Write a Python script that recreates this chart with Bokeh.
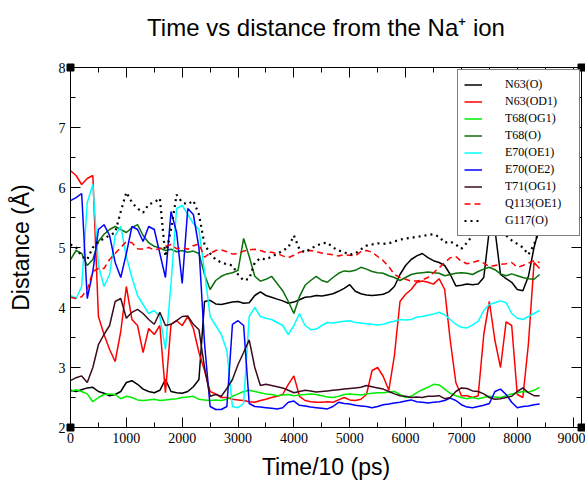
from bokeh.plotting import figure
from bokeh.models import (Legend, LegendItem, LinearAxis, SingleIntervalTicker,
                          Range1d)
from bokeh.embed import file_html
from bokeh.resources import INLINE

# time axis (Time/10, ps), sampled every 100 units
time_ps10 = list(range(0, 8401, 100))

n63_o = [2.62, 2.60, 2.63, 2.66, 2.67, 2.60, 2.57, 2.53, 2.55, 2.60,
         2.75, 2.78, 2.72, 2.64, 2.60, 2.58, 2.62, 2.80, 2.60, 2.58,
         2.57, 2.60, 2.68, 2.80, 4.10, 4.12, 4.06, 4.05, 4.07, 4.09,
         4.10, 4.07, 4.08, 4.20, 4.26, 4.20, 4.17, 4.14, 4.11, 4.07,
         4.09, 4.13, 4.17, 4.18, 4.20, 4.19, 4.21, 4.23, 4.27, 4.32,
         4.38, 4.27, 4.23, 4.21, 4.20, 4.21, 4.22, 4.26, 4.35, 4.55,
         4.70, 4.80, 4.86, 4.90, 4.83, 4.78, 4.75, 4.70, 4.55, 4.36,
         4.37, 4.39, 4.38, 4.39, 4.50, 5.30, 5.30, 4.55, 4.48, 4.42,
         4.30, 4.28, 4.52, 5.00, 5.35]

n63_od1 = [6.28, 6.20, 6.05, 6.15, 6.20, 3.85, 3.55, 3.30, 3.10, 3.60,
           4.35, 3.80, 3.70, 3.25, 3.65, 3.55, 3.70, 2.58, 3.72, 3.78,
           3.70, 3.85, 3.65, 3.25, 2.95, 2.60, 2.56, 2.50, 2.50, 2.47,
           2.46, 2.45, 2.43, 2.42, 2.45, 2.47, 2.50, 2.52, 2.55, 2.72,
           2.86, 2.52, 2.45, 2.43, 2.42, 2.42, 2.43, 2.42, 2.46, 2.50,
           2.46, 2.45, 2.47, 2.55, 2.95, 3.00, 2.85, 2.62, 3.20, 4.10,
           4.22, 4.30, 4.42, 4.44, 4.42, 4.39, 4.48, 4.30, 3.45, 2.75,
           2.53, 2.53, 2.50, 2.53, 3.55, 4.10, 3.45, 3.00, 3.76, 3.70,
           2.55, 2.50, 3.40, 4.75, 4.65]

t68_og1 = [2.60, 2.63, 2.60, 2.56, 2.43, 2.50, 2.55, 2.56, 2.55, 2.48,
           2.52, 2.50, 2.46, 2.45, 2.46, 2.47, 2.45, 2.46, 2.47, 2.48,
           2.50, 2.51, 2.52, 2.47, 2.46, 2.45, 2.46, 2.45, 2.47, 2.52,
           2.56, 2.60, 2.62, 2.60, 2.58, 2.56, 2.55, 2.53, 2.54, 2.55,
           2.53, 2.54, 2.55, 2.56, 2.55, 2.53, 2.51, 2.50, 2.52, 2.55,
           2.56, 2.55, 2.54, 2.56, 2.57, 2.58, 2.58, 2.59, 2.60, 2.55,
           2.50, 2.52, 2.58, 2.63, 2.67, 2.72, 2.71, 2.64, 2.57, 2.53,
           2.50, 2.48, 2.50, 2.48, 2.50, 2.52, 2.51, 2.50, 2.53, 2.56,
           2.58, 2.60, 2.59, 2.62, 2.67]

t68_o = [4.80, 4.95, 4.90, 4.70, 4.80, 5.10, 5.22, 5.30, 5.35, 5.30,
         5.25, 5.33, 5.38, 5.20, 5.08, 5.02, 4.99, 4.95, 4.97, 4.93,
         4.95, 4.92, 4.94, 4.90, 4.55, 4.30, 4.45, 4.52, 4.56, 4.58,
         4.62, 5.15, 4.85, 4.52, 4.44, 4.47, 4.52, 4.40, 4.28, 4.10,
         3.90, 4.18, 4.37, 4.45, 4.52, 4.45, 4.42, 4.50, 4.57, 4.61,
         4.60, 4.62, 4.67, 4.64, 4.60, 4.58, 4.57, 4.53, 4.50, 4.45,
         4.50, 4.55, 4.57, 4.58, 4.59, 4.58, 4.57, 4.53, 4.55, 4.57,
         4.58, 4.57, 4.55, 4.60, 4.64, 4.67, 4.63, 4.56, 4.53, 4.56,
         4.53, 4.50, 4.48, 4.47, 4.55]

e70_oe1 = [4.20, 4.15, 4.35, 5.75, 6.05, 4.70, 4.35, 4.55, 5.20, 5.35,
           4.85, 4.50, 4.20, 4.05, 3.90, 3.95, 3.85, 3.30, 4.40, 5.65,
           5.70, 5.55, 5.40, 5.30, 4.60, 3.85, 3.70, 3.55, 3.28, 2.35,
           2.33, 2.40, 3.85, 4.00, 3.85, 3.82, 3.80, 3.75, 3.70, 3.55,
           3.70, 3.90, 3.70, 3.63, 3.64, 3.70, 3.75, 3.74, 3.76, 3.77,
           3.78, 3.75, 3.74, 3.73, 3.72, 3.71, 3.72, 3.75, 3.77, 3.80,
           3.79, 3.80, 3.84, 3.85, 3.87, 3.89, 3.92, 3.88, 3.80, 3.72,
           3.67, 3.66, 3.71, 3.77, 3.95, 4.05, 4.08, 4.11, 4.08, 3.90,
           3.82, 3.80, 3.85, 3.90, 3.95]

e70_oe2 = [5.78, 5.83, 5.90, 4.15, 4.60, 5.30, 5.38, 5.20, 4.75, 4.50,
           4.90, 5.35, 5.30, 5.10, 5.35, 5.30, 4.90, 4.50, 5.60, 5.25,
           4.40, 5.65, 5.55, 5.00, 3.40, 2.35, 2.30, 2.30, 2.35, 3.72,
           3.78, 3.70, 2.40, 2.35, 2.34, 2.33, 2.32, 2.31, 2.33, 2.42,
           2.44, 2.37, 2.36, 2.34, 2.33, 2.32, 2.31, 2.35, 2.42, 2.40,
           2.39, 2.37, 2.36, 2.35, 2.33, 2.35, 2.38, 2.39, 2.41, 2.42,
           2.44, 2.46, 2.43, 2.42, 2.41, 2.42, 2.43, 2.45, 2.49, 2.45,
           2.38, 2.34, 2.33, 2.35, 2.37, 2.40, 2.60, 2.64, 2.55, 2.42,
           2.33, 2.35, 2.36, 2.38, 2.39]

t71_og1 = [2.78, 2.83, 2.86, 2.75, 3.00, 3.38, 3.55, 3.70, 4.10, 4.15,
           3.82, 3.92, 3.97, 3.90, 3.80, 3.72, 3.92, 3.70, 3.72, 3.78,
           3.85, 3.86, 3.72, 3.63, 3.00, 2.52, 2.55, 2.52, 2.65, 2.80,
           3.05, 3.25, 3.46, 3.00, 2.70, 2.72, 2.70, 2.68, 2.66, 2.62,
           2.58, 2.60, 2.62, 2.61, 2.59, 2.60, 2.61, 2.62, 2.63, 2.64,
           2.65, 2.66, 2.67, 2.70, 2.68, 2.66, 2.64, 2.60, 2.56, 2.53,
           2.52, 2.50, 2.51, 2.50, 2.52, 2.52, 2.53, 2.48, 2.50, 2.60,
           2.66, 2.65, 2.61, 2.60, 2.56, 2.50, 2.47, 2.48, 2.50, 2.52,
           2.60, 2.66, 2.58, 2.53, 2.53]

q113_oe1 = [4.17, 4.15, 4.18, 4.30, 4.60, 4.65, 4.65, 4.80, 4.90, 5.00,
            5.10, 5.08, 4.98, 4.97, 5.00, 4.96, 4.98, 5.02, 5.05, 4.98,
            5.00, 4.97, 5.03, 5.06, 4.84, 4.90, 4.95, 4.96, 4.93, 4.89,
            4.90, 4.94, 4.96, 4.97, 4.95, 4.92, 4.92, 4.90, 4.86, 4.83,
            4.87, 4.92, 4.94, 4.95, 4.93, 4.91, 4.89, 4.88, 4.86, 4.88,
            4.87, 4.86, 4.93, 4.95, 4.92, 4.85, 4.78, 4.68, 4.55, 4.50,
            4.47, 4.44, 4.44, 4.46, 4.50, 4.58, 4.66, 4.75, 4.83, 4.85,
            4.77, 4.73, 4.75, 4.78, 4.74, 4.68, 4.70, 4.72, 4.73, 4.75,
            4.67, 4.70, 4.74, 4.78, 4.75]

g117_o = [5.05, 5.00, 4.85, 4.80, 5.00, 5.10, 5.15, 5.20, 5.25, 5.60,
          5.92, 5.75, 5.65, 5.58, 5.72, 5.75, 5.82, 4.85, 5.30, 5.88,
          5.75, 5.72, 5.78, 5.55, 5.05, 4.90, 4.80, 4.75, 4.72, 4.70,
          4.55, 4.45, 4.48, 4.75, 4.82, 4.80, 4.85, 4.89, 4.95, 5.00,
          5.20, 4.97, 4.92, 4.98, 5.03, 5.07, 5.08, 5.00, 4.95, 4.92,
          4.88, 4.90, 4.97, 5.03, 5.05, 5.07, 5.06, 5.07, 5.10, 5.13,
          5.15, 5.16, 5.18, 5.19, 5.21, 5.22, 5.18, 5.08, 5.10, 5.05,
          4.98, 5.08, 5.20, 5.27, 5.30, 5.28, 5.26, 5.24, 5.20, 5.12,
          5.06, 5.00, 4.88, 5.05, 5.30]

series_labels = ["N63(O)", "N63(OD1)", "T68(OG1)", "T68(O)", "E70(OE1)",
                 "E70(OE2)", "T71(OG1)", "Q113(OE1)", "G117(O)"]

X_MAX = 9150
Y_MIN, Y_MAX = 2, 8
X_TICKS = list(range(0, 9001, 1000))
Y_TICKS = list(range(2, 9))

p = figure(width=585, height=490,
           x_range=Range1d(0, X_MAX), y_range=Range1d(Y_MIN, Y_MAX),
           output_backend="svg", toolbar_location=None,
           x_axis_type=None, y_axis_type=None,
           min_border_left=70, min_border_right=4,
           min_border_top=67, min_border_bottom=63)
p.outline_line_color = "black"
p.outline_line_width = 1
p.background_fill_color = "white"
p.border_fill_color = "white"

SERIF = "Liberation Serif"
SANS = "Liberation Sans"


def make_axis(ticker, tick_values, show_labels):
    ax = LinearAxis(ticker=ticker)
    ax.axis_line_color = "black"
    ax.axis_line_width = 1
    ax.major_tick_in = 10
    ax.major_tick_out = 0
    ax.minor_tick_in = 5
    ax.minor_tick_out = 0
    ax.major_tick_line_color = "black"
    ax.minor_tick_line_color = "black"
    ax.major_label_text_font = SERIF
    ax.major_label_text_font_size = "14px"
    ax.major_label_text_color = "black"
    ax.major_label_standoff = 5
    ax.axis_label_text_font = SANS
    ax.axis_label_text_font_style = "normal"
    ax.axis_label_text_font_size = "23px"
    ax.axis_label_text_color = "black"
    if not show_labels:
        # mirrored axis: ticks only, no room reserved for labels
        ax.major_label_overrides = {v: "" for v in tick_values}
        ax.major_label_text_font_size = "1px"
        ax.major_label_standoff = 0
    return ax


x_ticker = SingleIntervalTicker(interval=1000, num_minor_ticks=2)
y_ticker = SingleIntervalTicker(interval=1, num_minor_ticks=2)

xaxis = make_axis(x_ticker, X_TICKS, True)
xaxis.axis_label = "Time/10 (ps)"
xaxis.axis_label_standoff = 8
yaxis = make_axis(y_ticker, Y_TICKS, True)
yaxis.axis_label = "Distance (Å)"
yaxis.axis_label_standoff = 22
p.add_layout(xaxis, "below")
p.add_layout(yaxis, "left")

# the mirrored top axis carries the chart heading
top_axis = make_axis(x_ticker, X_TICKS, False)
top_axis.axis_label = "Time vs distance from the Na\u207a ion"
top_axis.axis_label_text_font_size = "24px"
top_axis.axis_label_standoff = 27
p.add_layout(top_axis, "above")
p.add_layout(make_axis(y_ticker, Y_TICKS, False), "right")

styles = [
    dict(line_color="#000000"),
    dict(line_color="#ff0000"),
    dict(line_color="#00ee00"),
    dict(line_color="#0a700a"),
    dict(line_color="#00ffff"),
    dict(line_color="#0000ff"),
    dict(line_color="#3a0c1e"),
    dict(line_color="#ff0000", line_dash="6 4"),
    dict(line_color="#000000", line_dash="2 4", line_width=2.2),
]
values = [n63_o, n63_od1, t68_og1, t68_o, e70_oe1, e70_oe2, t71_og1,
          q113_oe1, g117_o]

items = []
for lab, vals, st in zip(series_labels, values, styles):
    kw = dict(line_width=1.5)
    kw.update(st)
    r = p.line(time_ps10, vals, **kw)
    items.append(LegendItem(label=lab, renderers=[r]))

# small filled squares on the frame corners
p.scatter([0, 0, X_MAX, X_MAX], [Y_MIN, Y_MAX, Y_MIN, Y_MAX],
          marker="square", size=7, color="black", level="overlay")

legend = Legend(items=items, location=(387, 191))
legend.border_line_color = "black"
legend.border_line_width = 1
legend.background_fill_color = "white"
legend.background_fill_alpha = 1
legend.padding = 6
legend.spacing = 0
legend.margin = 0
legend.glyph_width = 18
legend.glyph_height = 17
legend.label_height = 17
legend.label_width = 68
legend.label_standoff = 23
legend.label_text_font = SERIF
legend.label_text_font_size = "12px"
legend.label_text_color = "black"
p.add_layout(legend)

open("out.html", "w").write(file_html(p, INLINE))
